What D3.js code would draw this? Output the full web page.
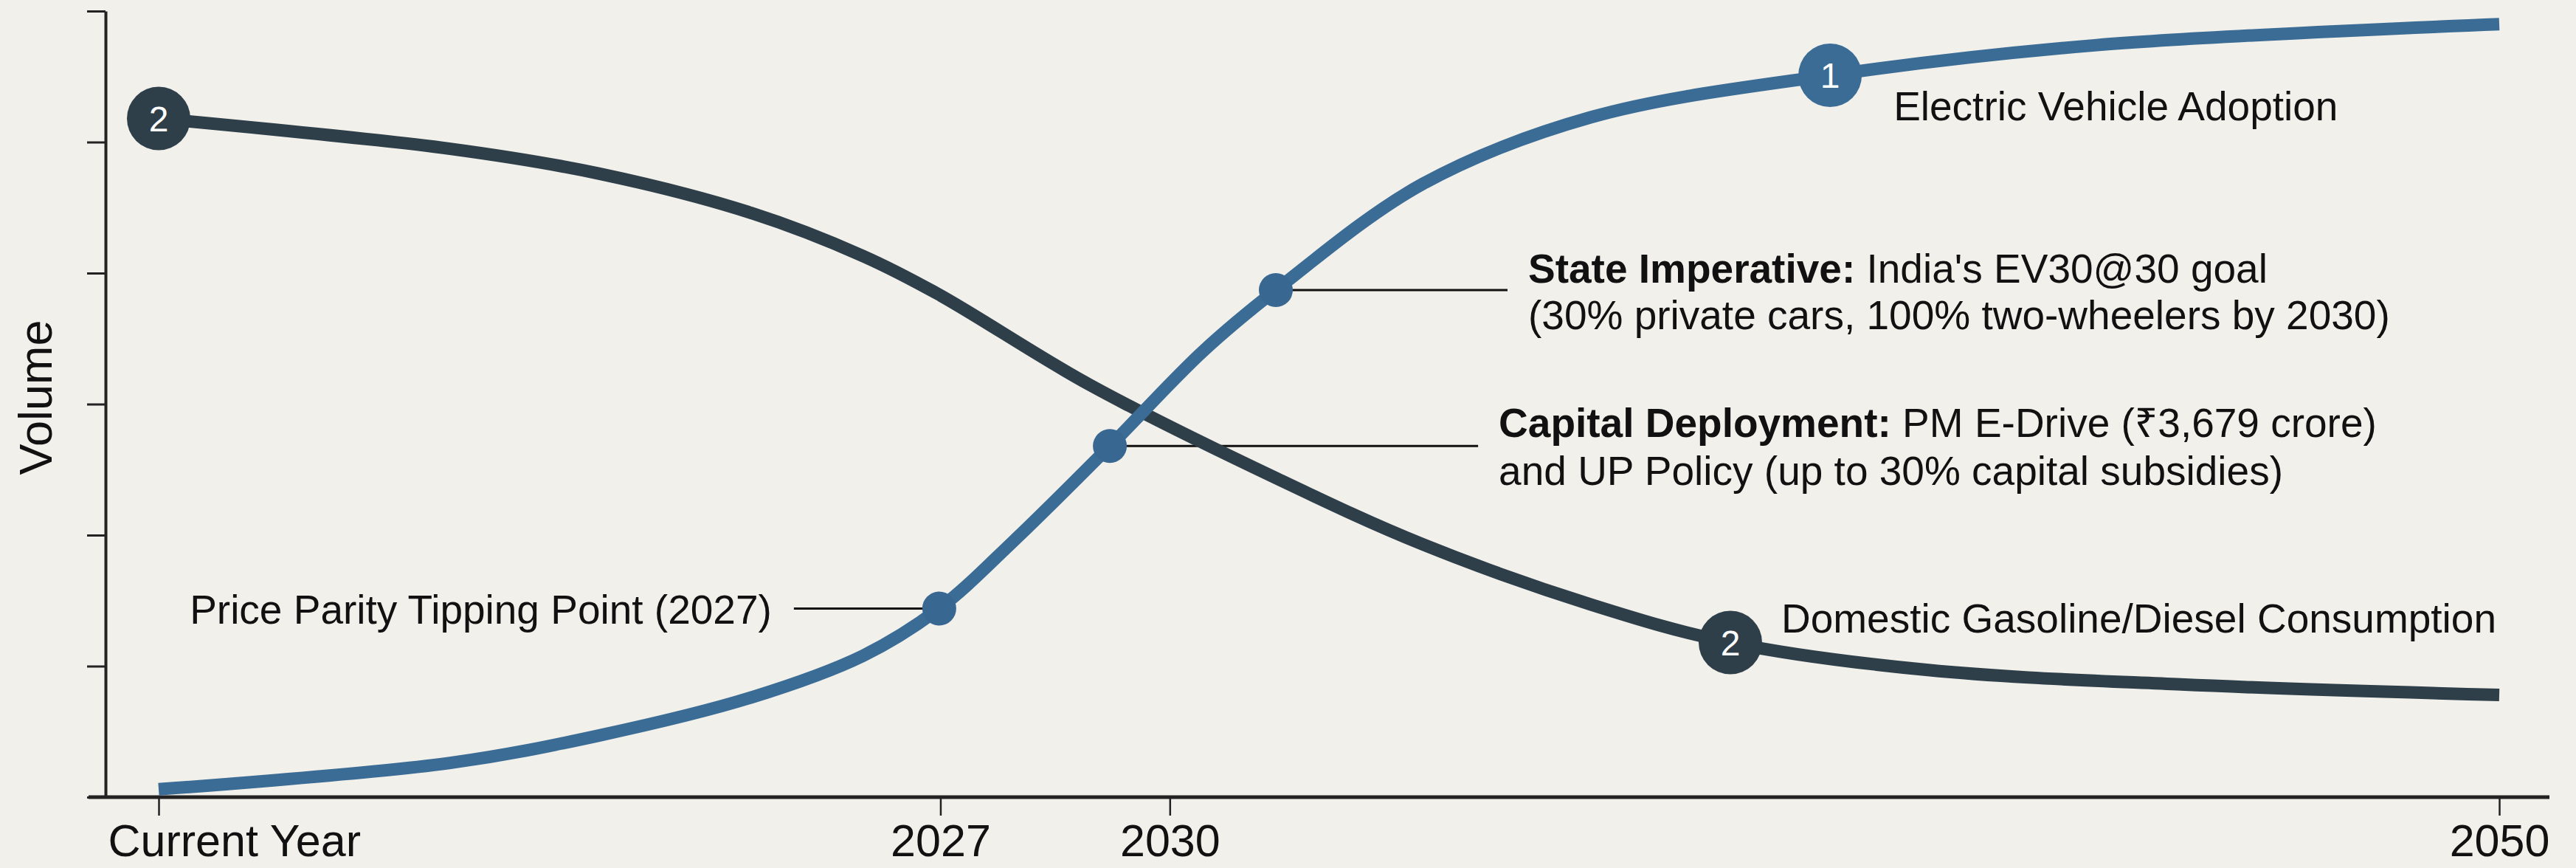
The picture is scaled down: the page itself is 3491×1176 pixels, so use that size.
<!DOCTYPE html>
<html>
<head>
<meta charset="utf-8">
<script src="https://cdn.jsdelivr.net/npm/d3@7"></script>
<style>
  html, body { margin: 0; padding: 0; background: #f2f0eb; }
  svg { display: block; }
  text { font-family: "Liberation Sans", Arial, "Noto Sans", sans-serif; fill: #111; }
</style>
</head>
<body>
<svg id="chart" width="3491" height="1176"></svg>
<script>
// ---------- DATA ----------
// x: position along the timeline (0 = current year, 100 = 2050)
const xTickValues = [0, 33.4, 43.2, 100];
const xTickLabels = ["Current Year", "2027", "2030", "2050"];
const yTickValues = [0, 1, 2, 3, 4, 5, 6];
const yLabel = "Volume";

// Electric Vehicle Adoption (relative volume)
const evT = [0, 12.4, 18.8, 25.3, 30.1, 33.35, 36.5, 40.64, 44.6, 47.73, 54.0, 61.2, 71.41, 82.8, 100];
const evV = [0.06, 0.26, 0.47, 0.76, 1.08, 1.44, 1.95, 2.68, 3.40, 3.87, 4.68, 5.19, 5.51, 5.74, 5.90];

// Domestic Gasoline/Diesel Consumption (relative volume)
const fuelT = [0, 12.4, 18.8, 25.3, 30.1, 33.3, 39.75, 47.8, 54.0, 61.2, 67.15, 75.6, 86.4, 100];
const fuelV = [5.18, 4.95, 4.76, 4.46, 4.13, 3.84, 3.15, 2.43, 1.93, 1.47, 1.18, 0.97, 0.86, 0.78];

const seriesNames = ["Electric Vehicle Adoption", "Domestic Gasoline/Diesel Consumption"];

// numbered badges: series index, timeline position, badge text
const badgeSeries = [1, 0, 1];
const badgeT = [0, 71.41, 67.15];
const badgeText = ["2", "1", "2"];

// milestones on the EV curve
const milestoneT = [33.35, 40.64, 47.73];
const milestoneBold = ["", "Capital Deployment:", "State Imperative:"];
const milestoneLine1 = ["Price Parity Tipping Point (2027)", " PM E-Drive (\u20B93,679 crore)", " India's EV30@30 goal"];
const milestoneLine2 = ["", "and UP Policy (up to 30% capital subsidies)", "(30% private cars, 100% two-wheelers by 2030)"];

// ---------- LAYOUT / STYLE ----------
const W = 3491, H = 1176;
const margin = { left: 215, right: 104, top: 15, bottom: 96 };
const colors = { ev: "#3b6c95", fuel: "#2e3f4a", axis: "#222", bg: "#f2f0eb" };
const lineWidth = 17;
const badgeR = 43, dotR = 23;
const labelFont = 55, tickFont = 61;
// label placement relative to its marker
const milestoneLayout = [
  { leader: -197, text: -227, dy1: 21, dy2: 0, anchor: "end" },
  { leader: 499, text: 527, dy1: -12, dy2: 53, anchor: "start" },
  { leader: 314, text: 342, dy1: -10, dy2: 53, anchor: "start" }
];
const seriesLabelLayout = [ { dx: 86, dy: 61 }, { dx: 69, dy: -14 } ];

const svg = d3.select("#chart");
svg.append("rect").attr("width", W).attr("height", H).attr("fill", colors.bg);

const x = d3.scaleLinear().domain([0, 100]).range([margin.left, W - margin.right]);
const y = d3.scaleLinear().domain([0, 6]).range([H - margin.bottom, margin.top]);

const yAxisX = 143;
// ---------- AXES ----------
const yAxis = svg.append("g")
  .attr("transform", `translate(${yAxisX},0)`)
  .call(d3.axisLeft(y).tickValues(yTickValues).tickSize(25).tickSizeOuter(0).tickFormat(""));
yAxis.select(".domain").attr("stroke", colors.axis).attr("stroke-width", 4);
yAxis.selectAll(".tick line").attr("stroke", colors.axis).attr("stroke-width", 3);

const xAxis = svg.append("g")
  .attr("transform", `translate(0,${y(0)})`)
  .call(d3.axisBottom(x).tickValues(xTickValues).tickSize(25).tickPadding(12)
    .tickFormat((d, i) => xTickLabels[i]));
xAxis.select(".domain").remove();
xAxis.append("line")
  .attr("x1", x(0) - 95).attr("x2", x(100) + 68)
  .attr("y1", 0).attr("y2", 0)
  .attr("stroke", colors.axis).attr("stroke-width", 5);
xAxis.selectAll(".tick line").attr("stroke", colors.axis).attr("stroke-width", 2.5);
xAxis.selectAll(".tick text")
  .attr("font-size", tickFont)
  .attr("font-family", "'Liberation Sans', Arial, sans-serif")
  .attr("fill", "#111");
xAxis.selectAll(".tick text").filter((d, i) => i === 0)
  .attr("text-anchor", "start").attr("x", -69);

svg.append("text")
  .attr("transform", `translate(70,${(y(0) + y(6)) / 2 - 9}) rotate(-90)`)
  .attr("text-anchor", "middle")
  .attr("font-size", 63)
  .text(yLabel);

// ---------- LINES ----------
const evData = evT.map((t, i) => ({ t, v: evV[i] }));
const fuelData = fuelT.map((t, i) => ({ t, v: fuelV[i] }));
const series = [evData, fuelData];
const seriesColor = [colors.ev, colors.fuel];

const line = d3.line().x(d => x(d.t)).y(d => y(d.v)).curve(d3.curveCatmullRom.alpha(0.5));

// milestone leader lines (under curves)
const evAt = t => evData[evT.indexOf(t)];
milestoneT.forEach((t, i) => {
  const p = evAt(t), L = milestoneLayout[i];
  svg.append("line")
    .attr("x1", x(p.t)).attr("x2", x(p.t) + L.leader)
    .attr("y1", y(p.v)).attr("y2", y(p.v))
    .attr("stroke", "#111").attr("stroke-width", 3);
});

[1, 0].forEach(s => {
  svg.append("path")
    .datum(series[s])
    .attr("d", line)
    .attr("fill", "none")
    .attr("stroke", seriesColor[s])
    .attr("stroke-width", lineWidth)
    .attr("stroke-linecap", "butt");
});

// milestone dots and labels
milestoneT.forEach((t, i) => {
  const p = evAt(t), L = milestoneLayout[i];
  const cx = x(p.t), cy = y(p.v);
  svg.append("circle").attr("cx", cx).attr("cy", cy).attr("r", dotR)
    .attr("fill", "#386791");
  const t1 = svg.append("text")
    .attr("x", cx + L.text).attr("y", cy + L.dy1)
    .attr("text-anchor", L.anchor)
    .attr("font-size", labelFont);
  if (milestoneBold[i]) t1.append("tspan").attr("font-weight", "bold").text(milestoneBold[i]);
  t1.append("tspan").text(milestoneLine1[i]);
  if (milestoneLine2[i]) {
    svg.append("text")
      .attr("x", cx + L.text).attr("y", cy + L.dy2)
      .attr("text-anchor", L.anchor)
      .attr("font-size", labelFont)
      .text(milestoneLine2[i]);
  }
});

// numbered badges
badgeT.forEach((t, i) => {
  const s = badgeSeries[i];
  const p = series[s][(s === 0 ? evT : fuelT).indexOf(t)];
  const cx = x(p.t), cy = y(p.v);
  svg.append("circle").attr("cx", cx).attr("cy", cy).attr("r", badgeR)
    .attr("fill", seriesColor[s]);
  svg.append("text")
    .attr("x", cx).attr("y", cy + 17)
    .attr("text-anchor", "middle")
    .attr("font-size", 48)
    .style("fill", "#fff")
    .text(badgeText[i]);
  if (i > 0) {
    const L = seriesLabelLayout[s];
    svg.append("text")
      .attr("x", cx + L.dx).attr("y", cy + L.dy)
      .attr("font-size", labelFont)
      .text(seriesNames[s]);
  }
});
</script>
</body>
</html>
